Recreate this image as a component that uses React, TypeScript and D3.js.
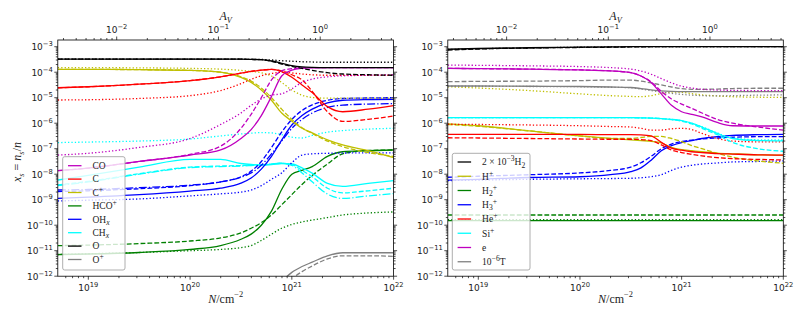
import React from "react";
import * as d3 from "d3";

// ---------- data (log10 of abundance x_s, sampled at log10 N) ----------
const logN = [18.7, 19.0, 19.5, 20.0, 20.3, 20.5, 20.6, 20.7, 20.8, 20.9, 21.0, 21.1, 21.2, 21.35, 21.5, 21.75, 22.0];
const N_PER_AV = 1.9e21;

// left panel
const CO_solid = [-7.86, -7.76, -7.5, -7.25, -7.05, -6.6, -6.25, -5.7, -4.95, -4.15, -3.92, -3.85, -3.83, -3.82, -3.82, -3.82, -3.82];
const CO_dashed = [-7.86, -7.76, -7.5, -7.22, -6.9, -6.2, -5.65, -5.0, -4.3, -3.95, -3.86, -3.83, -3.82, -3.82, -3.82, -3.82, -3.82];
const CO_dotted = [-7.25, -7.18, -6.95, -6.6, -6.05, -5.6, -5.3, -5.05, -4.9, -4.85, -4.65, -4.4, -4.27, -4.18, -4.14, -4.12, -4.1];
const C_solid = [-4.61, -4.57, -4.47, -4.33, -4.18, -4.04, -3.97, -3.92, -3.89, -3.98, -4.2, -4.5, -4.8, -5.35, -5.55, -5.45, -5.31];
const C_dashed = [-4.61, -4.57, -4.47, -4.33, -4.18, -4.04, -3.97, -3.92, -3.89, -3.95, -4.1, -4.3, -4.75, -5.55, -5.93, -5.85, -5.72];
const C_dotted = [-5.09, -5.08, -5.03, -4.92, -4.72, -4.45, -4.28, -4.14, -4.05, -4.0, -4.03, -4.07, -4.1, -4.12, -4.12, -4.12, -4.12];
const Cp_solid = [-3.89, -3.89, -3.9, -3.93, -4.0, -4.2, -4.4, -4.7, -5.1, -5.6, -5.92, -6.2, -6.38, -6.65, -6.85, -7.08, -7.35];
const Cp_dashed = [-3.89, -3.89, -3.9, -3.93, -4.0, -4.18, -4.35, -4.62, -5.0, -5.45, -5.85, -6.18, -6.4, -6.7, -6.92, -7.15, -7.3];
const Cp_dotted = [-3.82, -3.82, -3.83, -3.85, -3.88, -3.93, -3.97, -4.02, -4.15, -4.4, -4.7, -4.9, -4.99, -5.02, -5.02, -5.02, -5.02];
const HCO_solid = [-11.15, -11.13, -11.07, -10.95, -10.8, -10.55, -10.35, -10.0, -9.45, -8.6, -8.0, -7.85, -7.7, -7.3, -7.12, -7.08, -7.05];
const HCO_dashed = [-10.8, -10.78, -10.72, -10.62, -10.5, -10.3, -10.12, -9.9, -9.6, -9.2, -8.8, -8.4, -8.05, -7.6, -7.2, -7.07, -7.05];
const HCO_dotted = [-11.15, -11.12, -11.07, -11.0, -10.95, -10.88, -10.8, -10.6, -10.35, -10.12, -9.97, -9.87, -9.8, -9.7, -9.6, -9.52, -9.48];
const OH_solid = [-8.95, -8.9, -8.8, -8.66, -8.55, -8.35, -8.15, -7.8, -7.3, -6.66, -6.07, -5.7, -5.45, -5.2, -5.1, -5.07, -5.06];
const OH_dashed = [-8.68, -8.65, -8.57, -8.45, -8.3, -8.1, -7.88, -7.5, -6.95, -6.35, -5.85, -5.5, -5.28, -5.1, -5.03, -5.01, -5.0];
const OH_dashdot = [-8.62, -8.6, -8.53, -8.43, -8.3, -8.12, -7.95, -7.65, -7.2, -6.7, -6.2, -5.85, -5.6, -5.38, -5.29, -5.25, -5.23];
const OH_dotted = [-9.05, -9.02, -8.97, -8.85, -8.77, -8.7, -8.62, -8.45, -8.2, -7.95, -7.55, -7.25, -7.2, -7.18, -7.17, -7.16, -7.16];
const CH_solid = [-8.23, -8.05, -7.72, -7.42, -7.42, -7.58, -7.62, -7.64, -7.62, -7.58, -7.6, -7.75, -7.96, -8.36, -8.48, -8.36, -8.25];
const CH_dashed = [-8.42, -8.28, -7.98, -7.72, -7.68, -7.66, -7.65, -7.63, -7.6, -7.57, -7.62, -7.85, -8.1, -8.55, -8.73, -8.65, -8.55];
const CH_dashdot = [-8.45, -8.3, -8.0, -7.74, -7.7, -7.68, -7.66, -7.64, -7.6, -7.57, -7.65, -7.95, -8.3, -8.78, -8.95, -8.85, -8.76];
const CH_dotted = [-6.76, -6.74, -6.7, -6.62, -6.5, -6.42, -6.39, -6.37, -6.38, -6.45, -6.55, -6.58, -6.48, -6.35, -6.29, -6.23, -6.2];
const O_solid = [-3.49, -3.49, -3.49, -3.49, -3.49, -3.49, -3.5, -3.51, -3.56, -3.65, -3.74, -3.79, -3.81, -3.82, -3.82, -3.82, -3.82];
const O_dashed = [-3.49, -3.49, -3.49, -3.49, -3.49, -3.49, -3.5, -3.51, -3.57, -3.68, -3.77, -3.85, -3.93, -4.02, -4.07, -4.1, -4.12];
const O_dotted = [-3.49, -3.49, -3.49, -3.49, -3.49, -3.49, -3.5, -3.5, -3.52, -3.55, -3.57, -3.59, -3.6, -3.61, -3.61, -3.61, -3.61];
const Op_solid = [-14, -14, -14, -14, -14, -13.5, -13.2, -12.9, -12.55, -12.2, -11.85, -11.62, -11.45, -11.2, -11.08, -11.08, -11.08];
const Op_dashed = [-14, -14, -14, -14, -14, -13.7, -13.4, -13.1, -12.8, -12.45, -12.1, -11.82, -11.6, -11.32, -11.2, -11.2, -11.22];

// right panel
const H2_solid = [-3.1, -3.07, -3.04, -3.02, -3.01, -3.0, -3.0, -3.0, -3.0, -3.0, -3.0, -3.0, -3.0, -3.0, -3.0, -3.0, -3.0];
const H2_dashed = [-3.13, -3.09, -3.05, -3.03, -3.02, -3.01, -3.01, -3.0, -3.0, -3.0, -3.0, -3.0, -3.0, -3.0, -3.0, -3.0, -3.0];
const H2_dotted = [-3.11, -3.08, -3.05, -3.02, -3.01, -3.0, -3.0, -3.0, -3.0, -3.0, -3.0, -3.0, -3.0, -3.0, -3.0, -3.0, -3.0];
const Hp_solid = [-6.03, -6.1, -6.3, -6.5, -6.6, -6.65, -6.68, -6.71, -6.77, -6.95, -7.04, -7.08, -7.12, -7.17, -7.2, -7.24, -7.25];
const Hp_dashed = [-6.05, -6.12, -6.3, -6.5, -6.6, -6.6, -6.56, -6.52, -6.52, -6.6, -6.72, -6.88, -7.0, -7.18, -7.33, -7.48, -7.57];
const Hp_dotted = [-4.57, -4.62, -4.72, -4.85, -4.92, -4.95, -4.96, -4.92, -4.83, -4.78, -4.79, -4.84, -4.89, -4.93, -4.96, -4.98, -4.99];
const H2p_solid = [-9.82, -9.82, -9.82, -9.82, -9.82, -9.82, -9.82, -9.82, -9.82, -9.82, -9.82, -9.82, -9.82, -9.82, -9.82, -9.82, -9.82];
const H2p_dashed = [-9.6, -9.6, -9.6, -9.6, -9.6, -9.6, -9.6, -9.6, -9.6, -9.6, -9.6, -9.6, -9.6, -9.6, -9.6, -9.6, -9.6];
const H2p_dotted = [-9.78, -9.78, -9.78, -9.78, -9.78, -9.78, -9.78, -9.78, -9.78, -9.78, -9.78, -9.78, -9.78, -9.78, -9.78, -9.78, -9.78];
const H3p_solid = [-8.23, -8.2, -8.13, -8.1, -8.02, -7.9, -7.75, -7.45, -7.08, -6.88, -6.76, -6.68, -6.6, -6.53, -6.48, -6.45, -6.44];
const H3p_dashed = [-8.12, -8.08, -8.02, -7.95, -7.85, -7.72, -7.55, -7.3, -7.0, -6.82, -6.72, -6.66, -6.62, -6.58, -6.55, -6.53, -6.53];
const H3p_dotted = [-8.25, -8.23, -8.2, -8.18, -8.17, -8.16, -8.14, -8.1, -8.02, -7.85, -7.72, -7.65, -7.6, -7.56, -7.52, -7.5, -7.48];
const Hep_solid = [-6.44, -6.44, -6.44, -6.44, -6.45, -6.45, -6.46, -6.5, -6.75, -6.98, -7.06, -7.12, -7.15, -7.19, -7.21, -7.24, -7.25];
const Hep_dashed = [-6.57, -6.58, -6.6, -6.62, -6.63, -6.63, -6.64, -6.68, -6.85, -7.05, -7.15, -7.22, -7.28, -7.35, -7.39, -7.42, -7.44];
const Hep_dotted = [-6.04, -6.05, -6.07, -6.1, -6.13, -6.15, -6.2, -6.27, -6.27, -6.22, -6.2, -6.25, -6.4, -6.6, -6.7, -6.73, -6.73];
const Sip_solid = [-5.78, -5.78, -5.78, -5.78, -5.78, -5.78, -5.79, -5.8, -5.82, -5.85, -5.9, -6.0, -6.15, -6.4, -6.6, -6.68, -6.69];
const Sip_dashed = [-5.78, -5.78, -5.78, -5.78, -5.78, -5.78, -5.79, -5.8, -5.82, -5.86, -5.92, -6.03, -6.2, -6.45, -6.75, -7.0, -7.1];
const Sip_dotted = [-5.78, -5.78, -5.78, -5.78, -5.78, -5.78, -5.79, -5.8, -5.82, -5.85, -5.9, -6.0, -6.14, -6.38, -6.58, -6.65, -6.66];
const e_solid = [-3.85, -3.86, -3.88, -3.91, -3.95, -4.02, -4.15, -4.4, -4.85, -5.3, -5.55, -5.65, -5.75, -5.97, -6.1, -6.11, -6.11];
const e_dashed = [-3.85, -3.86, -3.88, -3.91, -3.95, -4.02, -4.15, -4.38, -4.75, -5.05, -5.25, -5.42, -5.6, -5.85, -6.0, -6.15, -6.27];
const e_dotted = [-3.72, -3.73, -3.75, -3.78, -3.82, -3.88, -3.95, -4.08, -4.25, -4.42, -4.55, -4.62, -4.67, -4.7, -4.71, -4.72, -4.72];
const T_solid = [-4.54, -4.54, -4.55, -4.56, -4.58, -4.6, -4.64, -4.69, -4.73, -4.75, -4.76, -4.76, -4.76, -4.76, -4.76, -4.76, -4.76];
const T_dashed = [-4.37, -4.36, -4.35, -4.33, -4.31, -4.31, -4.35, -4.42, -4.5, -4.58, -4.64, -4.67, -4.67, -4.66, -4.64, -4.63, -4.63];
const T_dotted = [-4.55, -4.55, -4.56, -4.57, -4.59, -4.61, -4.66, -4.72, -4.78, -4.83, -4.87, -4.9, -4.92, -4.93, -4.92, -4.9, -4.89];

// tick exponents
const xTickExps = [19, 20, 21, 22];
const avTickExps = [-2, -1, 0];
const yTickExps = [-12, -11, -10, -9, -8, -7, -6, -5, -4, -3];

// ---------- styling / layout ----------
const COL = {
  m: "#bf00bf", r: "#ff0000", y: "#bfbf00", g: "#008000",
  b: "#0000ff", c: "#00ffff", k: "#000000", gray: "#808080",
};
const DASH: Record<string, string | undefined> = {
  solid: undefined,
  dashed: "4.8 2.1",
  dotted: "1.3 2.1",
  dashdot: "8 2.1 1.3 2.1",
};

type Seg = { t: string; k?: "sup" | "sub"; it?: boolean; dx?: number };
type Series = { vals: number[]; color: string; dash: string };

const leftSeries: Series[] = [
  { vals: Op_solid, color: COL.gray, dash: "solid" },
  { vals: Op_dashed, color: COL.gray, dash: "dashed" },
  { vals: HCO_dotted, color: COL.g, dash: "dotted" },
  { vals: HCO_dashed, color: COL.g, dash: "dashed" },
  { vals: HCO_solid, color: COL.g, dash: "solid" },
  { vals: CH_dotted, color: COL.c, dash: "dotted" },
  { vals: CH_dashdot, color: COL.c, dash: "dashdot" },
  { vals: CH_dashed, color: COL.c, dash: "dashed" },
  { vals: CH_solid, color: COL.c, dash: "solid" },
  { vals: OH_dotted, color: COL.b, dash: "dotted" },
  { vals: OH_dashdot, color: COL.b, dash: "dashdot" },
  { vals: OH_dashed, color: COL.b, dash: "dashed" },
  { vals: OH_solid, color: COL.b, dash: "solid" },
  { vals: Cp_dotted, color: COL.y, dash: "dotted" },
  { vals: Cp_dashed, color: COL.y, dash: "dashed" },
  { vals: Cp_solid, color: COL.y, dash: "solid" },
  { vals: C_dotted, color: COL.r, dash: "dotted" },
  { vals: C_dashed, color: COL.r, dash: "dashed" },
  { vals: C_solid, color: COL.r, dash: "solid" },
  { vals: CO_dotted, color: COL.m, dash: "dotted" },
  { vals: CO_dashed, color: COL.m, dash: "dashed" },
  { vals: CO_solid, color: COL.m, dash: "solid" },
  { vals: O_dotted, color: COL.k, dash: "dotted" },
  { vals: O_dashed, color: COL.k, dash: "dashed" },
  { vals: O_solid, color: COL.k, dash: "solid" },
];

const rightSeries: Series[] = [
  { vals: H2p_dotted, color: COL.g, dash: "dotted" },
  { vals: H2p_dashed, color: COL.g, dash: "dashed" },
  { vals: H2p_solid, color: COL.g, dash: "solid" },
  { vals: H3p_dotted, color: COL.b, dash: "dotted" },
  { vals: H3p_dashed, color: COL.b, dash: "dashed" },
  { vals: H3p_solid, color: COL.b, dash: "solid" },
  { vals: Hp_dotted, color: COL.y, dash: "dotted" },
  { vals: Hp_dashed, color: COL.y, dash: "dashed" },
  { vals: Hp_solid, color: COL.y, dash: "solid" },
  { vals: Hep_dotted, color: COL.r, dash: "dotted" },
  { vals: Hep_dashed, color: COL.r, dash: "dashed" },
  { vals: Hep_solid, color: COL.r, dash: "solid" },
  { vals: Sip_dotted, color: COL.c, dash: "dotted" },
  { vals: Sip_dashed, color: COL.c, dash: "dashed" },
  { vals: Sip_solid, color: COL.c, dash: "solid" },
  { vals: T_dotted, color: COL.gray, dash: "dotted" },
  { vals: T_dashed, color: COL.gray, dash: "dashed" },
  { vals: T_solid, color: COL.gray, dash: "solid" },
  { vals: e_dotted, color: COL.m, dash: "dotted" },
  { vals: e_dashed, color: COL.m, dash: "dashed" },
  { vals: e_solid, color: COL.m, dash: "solid" },
  { vals: H2_dotted, color: COL.k, dash: "dotted" },
  { vals: H2_dashed, color: COL.k, dash: "dashed" },
  { vals: H2_solid, color: COL.k, dash: "solid" },
];

const leftLegend: { color: string; label: Seg[] }[] = [
  { color: COL.m, label: [{ t: "CO" }] },
  { color: COL.r, label: [{ t: "C" }] },
  { color: COL.y, label: [{ t: "C" }, { t: "+", k: "sup" }] },
  { color: COL.g, label: [{ t: "HCO" }, { t: "+", k: "sup" }] },
  { color: COL.b, label: [{ t: "OH" }, { t: "x", k: "sub", it: true }] },
  { color: COL.c, label: [{ t: "CH" }, { t: "x", k: "sub", it: true }] },
  { color: COL.k, label: [{ t: "O" }] },
  { color: COL.gray, label: [{ t: "O" }, { t: "+", k: "sup" }] },
];
const rightLegend: { color: string; label: Seg[] }[] = [
  { color: COL.k, label: [{ t: "2 × 10" }, { t: "−3", k: "sup" }, { t: "H" }, { t: "2", k: "sub" }] },
  { color: COL.y, label: [{ t: "H" }, { t: "+", k: "sup" }] },
  { color: COL.g, label: [{ t: "H" }, { t: "2", k: "sub" }, { t: "+", k: "sup" }] },
  { color: COL.b, label: [{ t: "H" }, { t: "3", k: "sub" }, { t: "+", k: "sup" }] },
  { color: COL.r, label: [{ t: "He" }, { t: "+", k: "sup" }] },
  { color: COL.c, label: [{ t: "Si" }, { t: "+", k: "sup" }] },
  { color: COL.m, label: [{ t: "e" }] },
  { color: COL.gray, label: [{ t: "10" }, { t: "−6", k: "sup" }, { t: "T" }] },
];

const Y_TOP = 40;
const Y_BOT = 276.2;
const yScale = d3.scaleLog().domain([1e-12, Math.pow(10, -2.737)]).range([Y_BOT, Y_TOP]);

const SANS = "'DejaVu Sans', sans-serif";
const SERIF = "'Liberation Serif', 'DejaVu Serif', serif";

function Rich({
  segs, size, sup = 0.42, sub = 0.25, scale = 0.7,
}: { segs: Seg[]; size: number; sup?: number; sub?: number; scale?: number }) {
  let cur = 0;
  return (
    <>
      {segs.map((s, i) => {
        const target = s.k === "sup" ? -sup * size : s.k === "sub" ? sub * size : 0;
        const dy = target - cur;
        cur = target;
        return (
          <tspan
            key={i}
            dy={dy || undefined}
            dx={s.dx}
            fontSize={s.k ? size * scale : size}
            fontStyle={s.it ? "italic" : undefined}
          >
            {s.t}
          </tspan>
        );
      })}
    </>
  );
}

function logTicks(lo: number, hi: number) {
  const out: { v: number; major: boolean }[] = [];
  for (let d = Math.floor(Math.log10(lo)) - 1; d <= Math.ceil(Math.log10(hi)); d++) {
    for (let m = 1; m <= 9; m++) {
      const v = m * Math.pow(10, d);
      if (v >= lo * 0.9999 && v <= hi * 1.0001) out.push({ v, major: m === 1 });
    }
  }
  return out;
}

function Panel({
  id, x0, x1, series, legend, legendBox, legendY0, legendStep, showYLabel,
}: {
  id: string; x0: number; x1: number; series: Series[];
  legend: { color: string; label: Seg[] }[];
  legendBox: { x: number; y: number; w: number; h: number };
  legendY0: number; legendStep: number; showYLabel: boolean;
}) {
  const nLo = Math.pow(10, logN[0]);
  const nHi = Math.pow(10, logN[logN.length - 1]);
  const xs = d3.scaleLog().domain([nLo, nHi]).range([x0, x1]);
  const av = d3.scaleLog().domain([nLo / N_PER_AV, nHi / N_PER_AV]).range([x0, x1]);
  const line = d3
    .line<number>()
    .x((_, i) => xs(Math.pow(10, logN[i])))
    .y((v) => yScale(Math.pow(10, v)))
    .curve(d3.curveMonotoneX);

  const xt = logTicks(nLo, nHi);
  const at = logTicks(nLo / N_PER_AV, nHi / N_PER_AV);
  const yt = logTicks(1e-12, yScale.domain()[1]);
  const MAJ = 3.5, MIN = 2;
  const cx = (x0 + x1) / 2;
  const TFS = 9;

  return (
    <g>
      <defs>
        <clipPath id={id}>
          <rect x={x0} y={Y_TOP} width={x1 - x0} height={Y_BOT - Y_TOP} />
        </clipPath>
      </defs>
      <g clipPath={`url(#${id})`}>
        {series.map((s, i) => (
          <path
            key={i}
            d={line(s.vals) || ""}
            fill="none"
            stroke={s.color}
            strokeWidth={1.3}
            strokeDasharray={DASH[s.dash]}
          />
        ))}
      </g>
      {/* frame */}
      <rect x={x0} y={Y_TOP} width={x1 - x0} height={Y_BOT - Y_TOP} fill="none" stroke="#000" strokeWidth={0.8} />
      {/* bottom ticks */}
      {xt.map((t, i) => {
        const x = xs(t.v);
        const L = t.major ? MAJ : MIN;
        return <line key={"xb" + i} x1={x} x2={x} y1={Y_BOT} y2={Y_BOT + L} stroke="#000" strokeWidth={0.7} />;
      })}
      {/* top ticks (A_V) */}
      {at.map((t, i) => {
        const x = av(t.v);
        const L = t.major ? MAJ : MIN;
        return <line key={"xt" + i} x1={x} x2={x} y1={Y_TOP} y2={Y_TOP - L} stroke="#000" strokeWidth={0.7} />;
      })}
      {/* y ticks both sides */}
      {yt.map((t, i) => {
        const y = yScale(t.v);
        const L = t.major ? MAJ : MIN;
        return (
          <g key={"y" + i}>
            <line x1={x0} x2={x0 - L} y1={y} y2={y} stroke="#000" strokeWidth={0.7} />
            <line x1={x1} x2={x1 + L} y1={y} y2={y} stroke="#000" strokeWidth={0.7} />
          </g>
        );
      })}
      {/* y tick labels */}
      {yTickExps.map((e) => (
        <text key={"yl" + e} x={x0 - 5} y={yScale(Math.pow(10, e)) + 3.4} textAnchor="end" fontFamily={SANS} fill="#222">
          <Rich size={TFS} scale={0.75} segs={[{ t: "10" }, { t: "−" + Math.abs(e), k: "sup" }]} />
        </text>
      ))}
      {/* bottom tick labels */}
      {xTickExps.map((e) => (
        <text key={"xl" + e} x={xs(Math.pow(10, e))} y={291} textAnchor="middle" fontFamily={SANS} fill="#222">
          <Rich size={TFS} scale={0.75} segs={[{ t: "10" }, { t: String(e), k: "sup" }]} />
        </text>
      ))}
      {/* top tick labels */}
      {avTickExps.map((e) => (
        <text key={"al" + e} x={av(Math.pow(10, e))} y={32.5} textAnchor="middle" fontFamily={SANS} fill="#222">
          <Rich size={TFS} scale={0.75} segs={[{ t: "10" }, { t: e < 0 ? "−" + Math.abs(e) : String(e), k: "sup" }]} />
        </text>
      ))}
      {/* axis labels */}
      <text x={cx} y={302.5} textAnchor="middle" fontFamily={SERIF} fill="#222">
        <Rich size={12} segs={[{ t: "N", it: true }, { t: "/cm" }, { t: "−2", k: "sup" }]} />
      </text>
      <text x={cx} y={19.5} textAnchor="middle" fontFamily={SERIF} fill="#222">
        <Rich size={12} segs={[{ t: "A", it: true }, { t: "V", k: "sub", it: true }]} />
      </text>
      {showYLabel && (
        <text transform={`translate(21,162) rotate(-90)`} textAnchor="middle" fontFamily={SERIF} fill="#222">
          <Rich
            size={12}
            segs={[
              { t: "x", it: true }, { t: "s", k: "sub", it: true }, { t: " = " },
              { t: "n", it: true }, { t: "s", k: "sub", it: true }, { t: "/" }, { t: "n", it: true },
            ]}
          />
        </text>
      )}
      {/* legend */}
      <rect
        x={legendBox.x} y={legendBox.y} width={legendBox.w} height={legendBox.h}
        rx={2} fill="#fff" fillOpacity={0.8} stroke="#999" strokeWidth={0.8}
      />
      {legend.map((l, i) => {
        const y = legendY0 + i * legendStep;
        const lx = legendBox.x + 5.3;
        return (
          <g key={"lg" + i}>
            <line x1={lx} x2={lx + 13.5} y1={y} y2={y} stroke={l.color} strokeWidth={1.3} />
            <text x={lx + 24.5} y={y + 3.3} fontFamily={SERIF} fill="#222">
              <Rich size={9.5} scale={0.8} segs={l.label} />
            </text>
          </g>
        );
      })}
    </g>
  );
}

export default function App() {
  return (
    <svg
      width={806}
      height={322}
      viewBox="0 0 806 322"
      style={{ position: "absolute", left: 0, top: 0, background: "#fff" }}
    >
      <rect x={0} y={0} width={806} height={322} fill="#fff" />
      <Panel
        id="clipL" x0={57.8} x1={393.6} series={leftSeries} legend={leftLegend}
        legendBox={{ x: 62.7, y: 156.7, w: 62.3, h: 113.3 }}
        legendY0={165.7} legendStep={13.4} showYLabel={true}
      />
      <Panel
        id="clipR" x0={447.8} x1={783.3} series={rightSeries} legend={rightLegend}
        legendBox={{ x: 452.3, y: 153.3, w: 77.7, h: 116.7 }}
        legendY0={162} legendStep={14.25} showYLabel={false}
      />
    </svg>
  );
}
